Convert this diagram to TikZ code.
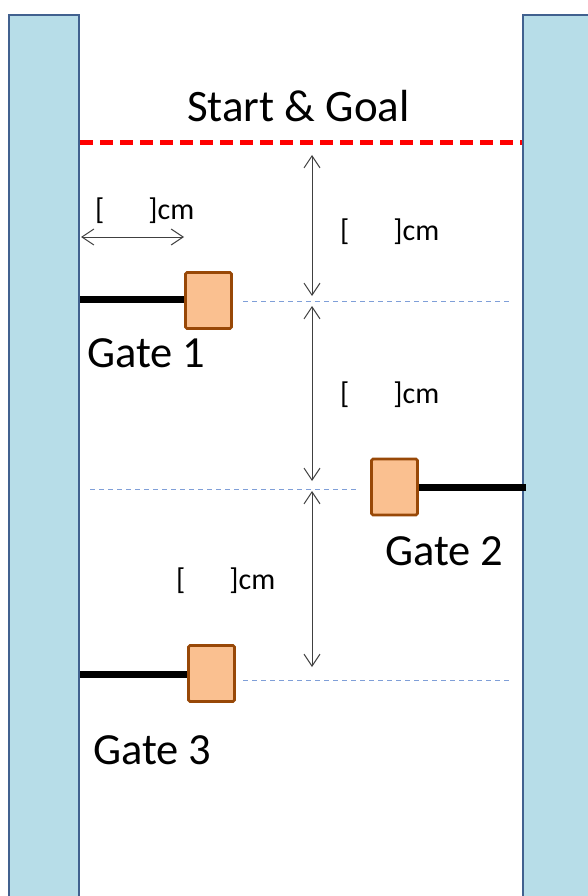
\documentclass[tikz,border=0pt]{standalone}
\usepackage{fontspec}
\setmainfont{Carlito}
\usetikzlibrary{arrows.meta}
\definecolor{wallfill}{HTML}{B7DDE8}
\definecolor{wallline}{HTML}{41618F}
\definecolor{gatefill}{HTML}{FAC090}
\definecolor{gateline}{HTML}{984807}
\definecolor{guidecol}{HTML}{7F9FD8}
\definecolor{dimcol}{HTML}{404040}
\begin{document}
\begin{tikzpicture}[x=1pt,y=-1pt,
 wall/.style={draw=wallline, line width=2pt, fill=wallfill},
 gatebox/.style={draw=gateline, line width=2.6pt, fill=gatefill, rounded corners=1.5pt, minimum width=46pt, minimum height=56pt, inner sep=0pt},
 arm/.style={line width=7pt},
 guideline/.style={draw=guidecol, line width=1pt, dash pattern=on 5pt off 4pt},
 dimline/.style={draw=dimcol, line width=1pt, {Straight Barb[length=12pt,width=16pt]}-{Straight Barb[length=12pt,width=16pt]}},
 bigtext/.style={font=\fontsize{44.5}{52}\selectfont, inner sep=0pt, anchor=base west},
 smalltext/.style={font=\fontsize{30}{36}\selectfont, inner sep=0pt, anchor=base west}]
\clip (0,0) rectangle (588,896);
\fill[white] (0,0) rectangle (588,896);
% walls
\draw[wall] (9,15) rectangle (79,910);
\draw[wall] (523,15) rectangle (600,910);
% start line
\coordinate (sL) at (80,143);
\coordinate (sR) at (522,143);
\draw[red, line width=5pt, dash pattern=on 13pt off 7pt] (sL) -- (sR);
\node[font=\fontsize{45}{52}\selectfont, inner sep=0pt, anchor=base] (title) at (298.5,122) {Start \& Goal};
% gates
\node[gatebox] (g1) at (208.5,300.5) {};
\node[gatebox] (g2) at (394.5,487) {};
\node[gatebox] (g3) at (211.5,673.5) {};
\coordinate (a1) at (80,299);
\coordinate (a2) at (526,487);
\coordinate (a3) at (80,674);
\draw[arm] (a1) -- (a1 -| g1.west);
\draw[arm] (a2) -- (a2 -| g2.east);
\draw[arm] (a3) -- (a3 -| g3.west);
% guide lines
\coordinate (l1a) at (243,301); \coordinate (l1b) at (510,301);
\coordinate (l2a) at (90,489); \coordinate (l2b) at (357,489);
\coordinate (l3a) at (243,680); \coordinate (l3b) at (510,680);
\draw[guideline] (l1a) -- (l1b);
\draw[guideline] (l2a) -- (l2b);
\draw[guideline] (l3a) -- (l3b);
% dimension arrows
\coordinate (d1a) at (312,155); \coordinate (d1b) at (312,296);
\coordinate (d2a) at (312,306); \coordinate (d2b) at (312,481);
\coordinate (d3a) at (312,491); \coordinate (d3b) at (312,667);
\coordinate (h1a) at (81,237); \coordinate (h1b) at (184,237);
\draw[dimline] (d1a) -- (d1b);
\draw[dimline] (d2a) -- (d2b);
\draw[dimline] (d3a) -- (d3b);
\draw[dimline] (h1a) -- (h1b);
% labels
\node[bigtext] (t1) at (87,367) {Gate 1};
\node[bigtext] (t2) at (385,565) {Gate 2};
\node[bigtext] (t3) at (93,764) {Gate 3};
\node[smalltext] (c1) at (95,219) {[\hspace{44pt}]cm};
\node[smalltext] (c2) at (340,240) {[\hspace{44pt}]cm};
\node[smalltext] (c3) at (340,403) {[\hspace{44pt}]cm};
\node[smalltext] (c4) at (176,589) {[\hspace{44pt}]cm};
\end{tikzpicture}
\end{document}
